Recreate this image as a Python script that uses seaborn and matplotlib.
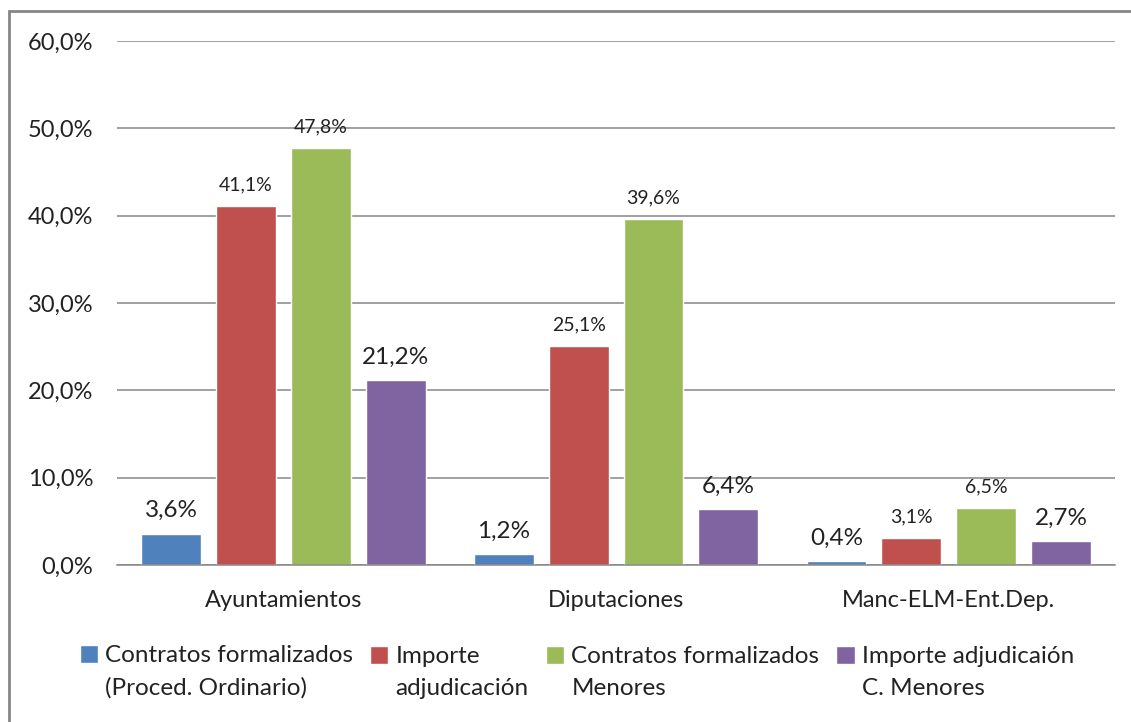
from matplotlib import pyplot as plt
from matplotlib.ticker import FuncFormatter
from matplotlib.patches import Rectangle
import pandas as pd
import seaborn as sns

# data
groups = ['Ayuntamientos', 'Diputaciones', 'Manc-ELM-Ent.Dep.']
series = ['Contratos formalizados\n(Proced. Ordinario)',
          'Importe\nadjudicación',
          'Contratos formalizados\nMenores',
          'Importe adjudicaión\nC. Menores']
contratos_ord = [3.6, 1.2, 0.4]
importe_adj = [41.1, 25.1, 3.1]
contratos_men = [47.8, 39.6, 6.5]
importe_men = [21.2, 6.4, 2.7]

colors = ['#4F81BD', '#C0504D', '#9BBB59', '#8064A2']
label_sizes = [17.5, 14, 14, 17.5]

# long form table for seaborn
values = [contratos_ord, importe_adj, contratos_men, importe_men]
rows = []
for s, vals in zip(series, values):
    for g, v in zip(groups, vals):
        rows.append({'grupo': g, 'serie': s, 'valor': v})
df = pd.DataFrame(rows)

sns.set_style('white')
plt.rcParams['font.family'] = ['Lato', 'DejaVu Sans']

fig = plt.figure(figsize=(11.31, 7.22), dpi=100)
ax = fig.add_axes([0.1034, 0.2175, 0.8826, 0.7255])

sns.barplot(data=df, x='grupo', y='valor', hue='serie', palette=colors,
            saturation=1, width=0.9, gap=0.2, ax=ax, legend=True)

# data labels, comma decimal
for cont, size in zip(ax.containers, label_sizes):
    ax.bar_label(cont, labels=[f'{v:.1f}%'.replace('.', ',') for v in cont.datavalues],
                 padding=9, fontsize=size, color='#222222')

ax.set_ylim(0, 60)
ax.set_yticks(range(0, 61, 10))
ax.yaxis.set_major_formatter(FuncFormatter(lambda v, p: f'{v:.1f}%'.replace('.', ',')))
ax.grid(axis='y', color='#868686', lw=1.1)
ax.set_axisbelow(True)
for sp in ['left', 'right', 'top']:
    ax.spines[sp].set_visible(False)
ax.spines['bottom'].set_color('#868686')
ax.spines['bottom'].set_linewidth(1.1)
ax.tick_params(axis='both', length=0, labelsize=17, colors='#222222')
ax.tick_params(axis='x', pad=18)
ax.tick_params(axis='y', pad=17)
ax.set_xlabel('')
ax.set_ylabel('')

handles, labels = ax.get_legend_handles_labels()
ax.get_legend().remove()
leg = fig.legend(handles, labels, loc='upper center', bbox_to_anchor=(0.51, 0.137),
                 ncol=4, frameon=False, fontsize=17.5, handlelength=0.75,
                 handleheight=0.75, handletextpad=0.3, columnspacing=0.7)
for t in leg.get_texts():
    t.set_linespacing(1.65)
    t.set_color('#222222')
# put the square next to the first line of each label
for col in leg._legend_handle_box.get_children():
    for entry in col.get_children():
        entry.align = 'top'

# outer chart border
fig.patches.append(Rectangle((9 / 1131, -0.1), 1.2, 1.1 - 11 / 722,
                             transform=fig.transFigure, fill=False,
                             edgecolor='#868686', lw=2))

plt.savefig('out.png', dpi=100)
